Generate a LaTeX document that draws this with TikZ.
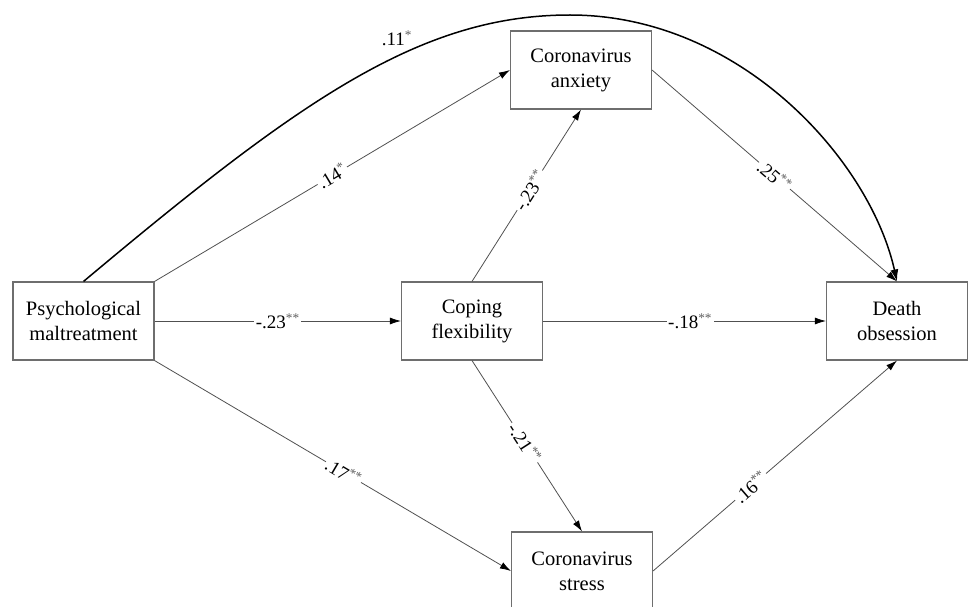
\documentclass[tikz,border=0pt]{standalone}
\usepackage{fontspec}
\setmainfont{Liberation Serif}
\usetikzlibrary{arrows.meta}
\definecolor{boxgray}{HTML}{6E6E6E}
\definecolor{linegray}{HTML}{505050}
\definecolor{stargray}{HTML}{606060}
\newcommand\mystars[1]{\textsuperscript{\textcolor{stargray}{#1}}}
\begin{document}
\begin{tikzpicture}[x=1pt,y=-1pt,
  box/.style={draw=boxgray,line width=1.1pt,minimum width=141pt,minimum height=78pt,align=center,font=\fontsize{20.5}{25}\selectfont,inner sep=0pt},
  conn/.style={draw=linegray,line width=0.8pt,-{Latex[length=11pt,width=7pt,color=black]}},
  curvy/.style={draw=black,line width=1.5pt,-{Latex[length=12pt,width=8pt]}},
  lab/.style={fill=white,inner sep=1.5pt,font=\fontsize{19}{20}\selectfont}]
\useasboundingbox (0,0) rectangle (970,607);
\clip (0,0) rectangle (970,607);
\node[box] (psych) at (83.5,321) {Psychological\\maltreatment};
\node[box] (coping) at (472,321) {Coping\\flexibility};
\node[box] (death) at (897,321) {Death\\obsession};
\node[box] (anx) at (581,70) {Coronavirus\\anxiety};
\node[box] (stress) at (582,571) {Coronavirus\\stress};
\draw[curvy] (psych.north) .. controls (300,100) and (420,15) .. (570,15) .. controls (740,15) and (870,160) .. (death.north);
\node[lab,fill=none] (l11) at (397,38) {.11\mystars{*}};
\draw[conn] (psych.north east) -- node[lab,sloped,pos=0.5] {.14\mystars{*}} (anx.west);
\draw[conn] (psych.east) -- node[lab,pos=0.5] {-.23\mystars{**}} (coping.west);
\draw[conn] (psych.south east) -- node[lab,sloped,pos=0.53] {.17\mystars{**}} (stress.west);
\draw[conn] (coping.north) -- node[lab,sloped,pos=0.53] {-.23\mystars{**}} (anx.south);
\draw[conn] (coping.east) -- node[lab,pos=0.52] {-.18\mystars{**}} (death.west);
\draw[conn] (coping.south) -- node[lab,sloped,pos=0.48] {-.21\mystars{**}} (stress.north);
\draw[conn] (anx.east) -- node[lab,sloped,pos=0.5] {.25\mystars{**}} (death.north);
\draw[conn] (stress.east) -- node[lab,sloped,pos=0.4] {.16\mystars{**}} (death.south);
\end{tikzpicture}
\end{document}
